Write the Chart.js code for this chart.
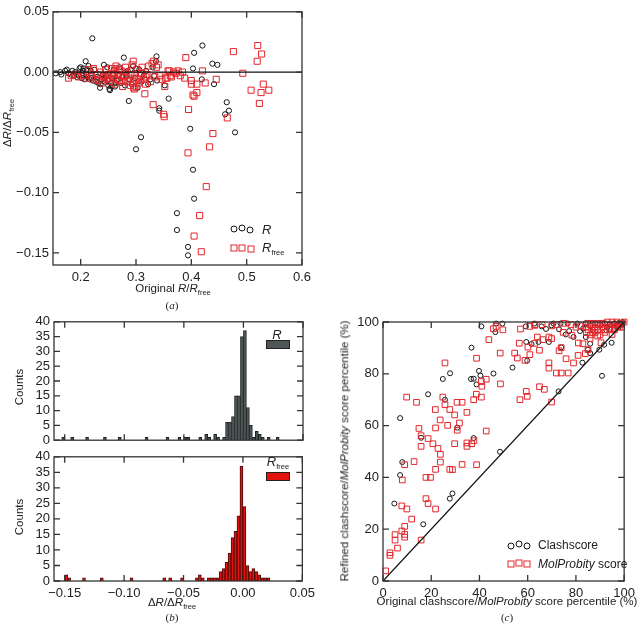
<!DOCTYPE html>
<html>
<head>
<meta charset="utf-8">
<script src="https://cdn.jsdelivr.net/npm/chart.js@4.4.1/dist/chart.umd.min.js"></script>
<style>
  body { margin: 0; background: #fff; }
  #wrap { position: relative; width: 640px; height: 626px; overflow: hidden; font-family: "Liberation Sans", Arial, sans-serif; color: #222; }
  canvas { position: absolute; }
  .t { position: absolute; transform: translate(-50%, -50%); white-space: nowrap; font-size: 11.5px; line-height: 1; }
  .rot { transform: translate(-50%, -50%) rotate(-90deg); }
  .lg { position: absolute; transform: translate(0, -50%); white-space: nowrap; font-size: 12px; line-height: 1; }
  .big { font-size: 13px; }
  .t sub, .lg sub { font-size: 7.5px; vertical-align: -3px; }
  .pl { font-family: "Liberation Serif", serif; font-size: 11px; }
  .circ { position: absolute; width: 5px; height: 5px; border: 1px solid #111; border-radius: 50%; transform: translate(-50%, -50%); }
  .sq { position: absolute; width: 5px; height: 5px; border: 1px solid #e3262b; transform: translate(-50%, -50%); }
  .sw { position: absolute; border: 1px solid #222; }
</style>
</head>
<body>
<div id="wrap">
  <canvas id="chartA" width="320" height="310" style="left:0px;top:0px"></canvas>
  <canvas id="chartB1" width="320" height="142" style="left:0px;top:310px"></canvas>
  <canvas id="chartB2" width="320" height="181" style="left:0px;top:445px"></canvas>
  <canvas id="chartC" width="310" height="316" style="left:330px;top:310px"></canvas>

  <div class="t rot" style="left:9px;top:123px">&Delta;<i>R</i>/&Delta;<i>R</i><sub>free</sub></div>
  <div class="t" style="left:173px;top:290px">Original <i>R</i>/<i>R</i><sub>free</sub></div>
  <div class="t pl" style="left:172px;top:305px">(<i>a</i>)</div>
  <span class="circ" style="left:234px;top:229px"></span>
  <span class="circ" style="left:242px;top:228px"></span>
  <span class="circ" style="left:250px;top:230px"></span>
  <div class="lg big" style="left:262px;top:229px"><i>R</i></div>
  <span class="sq" style="left:234px;top:248px"></span>
  <span class="sq" style="left:242px;top:248px"></span>
  <span class="sq" style="left:251px;top:249px"></span>
  <div class="lg big" style="left:262px;top:249px"><i>R</i><sub>free</sub></div>

  <div class="t rot" style="left:20px;top:387px">Counts</div>
  <div class="t rot" style="left:20px;top:517px">Counts</div>
  <div class="t big" style="left:277px;top:334px"><i>R</i></div>
  <div class="sw" style="left:266px;top:340px;width:22px;height:7px;background:#4d5757"></div>
  <div class="t big" style="left:278px;top:463px"><i>R</i><sub>free</sub></div>
  <div class="sw" style="left:266px;top:472px;width:22px;height:7px;background:#e3140f"></div>
  <div class="t" style="left:172px;top:604px">&Delta;<i>R</i>/&Delta;<i>R</i><sub>free</sub></div>
  <div class="t pl" style="left:172px;top:617px">(<i>b</i>)</div>

  <div class="t rot" style="left:345px;top:451px">Refined clashscore/<i>MolProbity</i> score percentile (%)</div>
  <div class="t" style="left:507px;top:602px">Original clashscore/<i>MolProbity</i> score percentile (%)</div>
  <div class="t pl" style="left:507px;top:617px">(<i>c</i>)</div>
  <span class="circ" style="left:511px;top:546px"></span>
  <span class="circ" style="left:519px;top:544px"></span>
  <span class="circ" style="left:527px;top:546px"></span>
  <div class="lg" style="left:538px;top:545px">Clashscore</div>
  <span class="sq" style="left:511px;top:564px"></span>
  <span class="sq" style="left:519px;top:563px"></span>
  <span class="sq" style="left:527px;top:564px"></span>
  <div class="lg" style="left:538px;top:564px"><i>MolProbity</i> score</div>
</div>

<script>
// (a) original R / Rfree against change
const rOrig = [0.155,0.163,0.165,0.172,0.175,0.178,0.182,0.185,0.188,0.190,0.193,0.196,0.198,0.200,0.202,0.203,0.204,0.205,0.207,0.209,0.210,0.211,0.212,0.214,0.216,0.218,0.219,0.221,0.222,0.225,0.227,0.228,0.230,0.232,0.235,0.236,0.238,0.240,0.242,0.243,0.244,0.246,0.248,0.249,0.250,0.252,0.253,0.255,0.256,0.257,0.258,0.260,0.262,0.263,0.265,0.268,0.270,0.272,0.275,0.278,0.280,0.283,0.285,0.287,0.288,0.290,0.292,0.295,0.298,0.300,0.300,0.303,0.306,0.309,0.310,0.314,0.318,0.322,0.326,0.330,0.333,0.336,0.337,0.338,0.342,0.342,0.352,0.359,0.374,0.374,0.394,0.394,0.398,0.403,0.403,0.405,0.405,0.419,0.420,0.438,0.441,0.447,0.461,0.464,0.468,0.479];
const rDelta = [-0.001,0.000,-0.002,0.001,0.002,-0.001,-0.002,0.001,-0.003,0.000,-0.004,-0.002,0.003,0.004,-0.005,-0.001,0.001,0.003,-0.006,0.009,-0.002,0.002,-0.004,0.005,-0.006,0.001,-0.005,0.028,-0.007,0.002,-0.002,-0.008,-0.004,-0.009,-0.013,-0.010,-0.006,-0.002,0.006,-0.005,-0.008,-0.003,0.004,-0.007,-0.011,-0.014,-0.015,-0.009,-0.012,-0.005,-0.002,0.002,-0.012,-0.009,-0.007,-0.003,0.004,-0.009,-0.004,0.012,-0.011,-0.002,0.001,-0.024,-0.006,0.002,-0.010,0.005,-0.005,0.003,-0.064,-0.013,0.002,-0.054,-0.008,-0.003,0.001,-0.010,-0.006,0.004,-0.003,0.009,0.013,-0.007,-0.030,-0.032,-0.011,-0.022,-0.117,-0.131,-0.145,-0.152,-0.047,0.003,-0.081,0.016,-0.105,-0.006,0.022,0.007,-0.010,0.006,-0.035,-0.025,-0.032,-0.050];
const freeOrig = [0.178,0.183,0.190,0.196,0.205,0.210,0.215,0.220,0.223,0.226,0.230,0.233,0.236,0.239,0.242,0.244,0.245,0.248,0.250,0.251,0.253,0.256,0.258,0.259,0.262,0.262,0.264,0.265,0.267,0.270,0.270,0.272,0.273,0.276,0.278,0.279,0.280,0.281,0.284,0.286,0.287,0.290,0.291,0.293,0.295,0.296,0.296,0.297,0.300,0.300,0.302,0.304,0.305,0.308,0.310,0.311,0.314,0.316,0.317,0.318,0.320,0.323,0.326,0.329,0.331,0.332,0.334,0.337,0.340,0.343,0.347,0.350,0.351,0.352,0.353,0.356,0.358,0.360,0.362,0.364,0.368,0.372,0.376,0.380,0.384,0.388,0.390,0.394,0.395,0.400,0.400,0.403,0.405,0.405,0.410,0.410,0.415,0.418,0.420,0.425,0.427,0.433,0.439,0.445,0.465,0.476,0.493,0.508,0.519,0.520,0.523,0.526,0.527,0.530,0.540];
const freeDelta = [-0.005,-0.003,-0.002,-0.004,-0.003,-0.005,0.002,-0.004,0.003,-0.006,-0.002,-0.007,0.000,-0.009,-0.004,-0.003,0.002,-0.006,-0.002,-0.005,-0.008,0.003,-0.001,-0.004,-0.010,0.003,0.005,-0.006,-0.002,-0.007,0.002,-0.003,0.001,-0.012,-0.008,-0.004,0.000,0.004,-0.008,-0.005,-0.002,-0.011,-0.002,0.006,0.009,-0.008,-0.013,-0.014,-0.005,-0.012,0.002,-0.006,-0.009,-0.003,-0.001,0.004,-0.006,-0.018,-0.010,-0.004,-0.002,0.005,-0.008,0.007,-0.027,0.009,-0.004,0.004,0.006,-0.003,-0.006,-0.035,-0.037,-0.012,-0.005,-0.005,0.001,0.001,-0.003,-0.004,0.000,-0.001,0.001,-0.003,0.000,-0.005,0.012,-0.067,-0.031,-0.007,-0.010,-0.019,-0.020,-0.136,-0.010,-0.017,-0.119,-0.149,0.001,-0.009,-0.095,-0.062,-0.051,-0.006,-0.038,0.017,-0.001,-0.015,0.009,0.022,-0.026,-0.017,0.015,-0.010,-0.015];
const aXTicks = [0.2, 0.3, 0.4, 0.5, 0.6];
const aYTicks = [-0.15, -0.10, -0.05, 0.00, 0.05];

// (b) histograms, bin centres (width 0.0025) and counts
const rBins = [-0.15125,-0.14375,-0.13125,-0.11625,-0.10375,-0.08125,-0.06375,-0.05375,-0.04875,-0.04625,-0.03625,-0.03125,-0.02875,-0.02375,-0.02125,-0.01625,-0.01375,-0.01125,-0.00875,-0.00625,-0.00375,-0.00125,0.00125,0.00375,0.00625,0.00875,0.01125,0.01375,0.01625,0.02125,0.02875];
const rCounts = [1,1,1,1,1,1,1,1,1,1,1,2,1,2,1,1,6,6,8,15,15,35,37,11,5,1,3,2,1,1,1];
const freeBins = [-0.14875,-0.14625,-0.13375,-0.11875,-0.09375,-0.06625,-0.06125,-0.05125,-0.03875,-0.03625,-0.03375,-0.02875,-0.02625,-0.02375,-0.02125,-0.01875,-0.01625,-0.01375,-0.01125,-0.00875,-0.00625,-0.00375,-0.00125,0.00125,0.00375,0.00625,0.00875,0.01125,0.01375,0.01625,0.01875,0.02125];
const freeCounts = [2,1,1,1,1,1,1,1,1,2,1,1,1,1,1,3,4,6,9,14,16,21,37,24,5,3,4,3,2,1,1,1];
const bXTicks = [-0.15, -0.10, -0.05, 0.00, 0.05];
const bYTicks = [0, 5, 10, 15, 20, 25, 30, 35, 40];

// (c) percentiles before / after refinement
const clashOrig = [4.7,7.1,7.1,8.0,15.8,16.7,18.7,24.8,25.7,27.8,27.7,28.8,30.8,36.7,36.5,37.6,38.8,37.6,39.8,40.4,40.8,45.8,46.6,46.9,49.5,48.5,53.7,59.2,59.4,59.8,61.6,62.8,64.5,65.8,67.6,68.8,69.9,70.7,73.0,73.6,73.9,72.8,75.8,76.6,77.2,79.0,80.6,81.7,82.7,84.1,85.0,85.9,85.9,89.7,90.8,91.7,92.6,94.8,95.7,97.1,97.7,84,86,88,90,92,94,96,98,99,83,87,93,99.5];
const clashRef = [29.9,62.9,40.9,45.9,55.3,21.9,72.1,78.0,70.0,80.2,31.8,33.8,59.2,90.1,78.0,78.1,75.9,55.2,81.1,79.3,98.3,80.1,96.1,99.4,99.4,49.9,82.4,98.3,92.3,85.1,91.5,99.4,92.3,98.3,97.3,92.3,98.7,99.4,97.2,99.4,90.2,73.2,95.2,99.4,96.5,94.2,99.4,96.5,84.3,94.2,89.3,91.6,88.0,89.3,79.2,91.2,96.8,92.0,96.8,98.7,98.1,99.5,98.5,99.5,99,99.5,99,99.5,99.8,99,97.5,97,98,100];
const molOrig = [1.1,2.9,2.9,5.0,5.0,6.0,7.8,7.8,8.0,9.0,9.0,9.0,9.0,9.8,9.9,11.9,12.9,13.9,14.9,15.8,15.8,15.8,17.8,17.8,18.7,18.7,19.7,20.7,21.7,21.8,21.8,21.8,22.8,23.7,23.8,23.8,24.8,25.7,25.7,26.8,27.7,27.7,28.8,29.7,29.7,30.7,30.8,31.7,32.8,32.8,34.8,34.8,34.8,36.8,37.6,37.7,38.7,38.8,38.8,40.8,40.8,41.0,42.8,42.8,43.9,45.8,46.9,48.6,48.7,49.7,54.6,55.7,56.5,56.8,57.0,58.9,59.4,59.8,60.1,60.9,60.9,62.9,62.9,64.0,64.9,64.9,66.3,66.9,68.8,68.8,68.8,69.9,69.9,71.9,73.0,73.9,73.9,74.7,75.9,76.8,78.3,79.0,80.9,81.0,82.9,83.9,84.3,85.0,85.9,87.7,89.0,90.4,95.0,63,66,70,72,75,78,80,82,84,85,86,87,88,89,90,91,92,93,94,95,96,97,98,99,100,86,88,90,92,94,96,98,99,85,87,89,91,93,95,97];
const molRef = [3.9,10.9,9.9,17.9,15.8,12.7,29.0,19.3,39.0,21.1,18.0,16.9,44.9,71.0,27.8,23.9,46.1,69.0,58.9,56.1,52.0,15.8,31.8,40.0,55.0,29.9,40.0,53.0,66.2,59.1,43.1,27.8,51.2,62.2,48.9,45.9,71.0,84.2,68.1,60.1,66.2,43.1,43.0,64.1,53.0,69.0,58.2,61.0,69.0,45.0,65.1,53.3,52.0,53.0,70.0,54.2,72.1,86.0,44.9,77.0,71.0,75.2,77.9,57.9,93.2,97.4,98.3,88.0,76.1,97.0,88.0,86.1,91.8,70.0,97.3,85.2,73.2,71.3,90.3,98.3,87.4,91.8,98.7,94.2,89.1,75.0,93.2,74.0,94.2,84.2,82.2,69.1,93.6,80.3,88.9,80.3,90.1,96.0,85.8,80.3,94.9,84.2,87.1,91.9,91.6,87.8,95.9,89.3,93.6,96.8,94.6,92.0,95.2,99,99,98.5,99,99.5,99,98,98.5,98,97,99,96,98,97,99,98,97,99,98,99,98,99,99,99.5,100,95,96,95,96,97,97,98,98,99.5,99.5,99.5,99.5,100,100,100];
const cTicks = [0, 20, 40, 60, 80, 100];

const BLACK = "#161616";
const RED = "#e3262b";

Chart.defaults.font.family = "'Liberation Sans', Arial, sans-serif";
Chart.defaults.font.size = 13;
Chart.defaults.color = "#222";
Chart.defaults.animation = false;

function pts(xs, ys) {
  return xs.map((x, i) => ({ x: x, y: ys[i] }));
}

function minusSign(text) {
  return text.replace("-", "\u2212");
}

// box around the plot area with ticks pointing inwards on all sides
const frameTicks = {
  id: "frameTicks",
  afterDatasetsDraw(chart, args, opts) {
    const { ctx, chartArea: a, scales } = chart;
    const len = opts.len || 6;
    ctx.save();
    ctx.strokeStyle = "#333";
    ctx.lineWidth = 1.3;
    ctx.strokeRect(a.left, a.top, a.right - a.left, a.bottom - a.top);
    ctx.beginPath();
    scales.x.ticks.forEach(t => {
      const p = scales.x.getPixelForValue(t.value);
      ctx.moveTo(p, a.bottom); ctx.lineTo(p, a.bottom - len);
      ctx.moveTo(p, a.top); ctx.lineTo(p, a.top + len);
    });
    scales.y.ticks.forEach(t => {
      const p = scales.y.getPixelForValue(t.value);
      ctx.moveTo(a.left, p); ctx.lineTo(a.left + len, p);
      ctx.moveTo(a.right, p); ctx.lineTo(a.right - len, p);
    });
    ctx.stroke();
    ctx.restore();
  }
};

function axis(min, max, tickList, fmt, size, isX, showLabels) {
  return {
    type: "linear",
    min: min,
    max: max,
    offset: false,
    grid: { display: false, drawTicks: false },
    border: { display: false },
    ticks: { display: showLabels !== false, padding: isX ? 5 : 4, maxRotation: 0, autoSkip: false, callback: fmt },
    afterBuildTicks: s => { s.ticks = tickList.map(v => ({ value: v })); },
    afterFit: s => { if (isX) s.height = size; else s.width = size; }
  };
}

// (a)
new Chart(document.getElementById("chartA"), {
  type: "scatter",
  data: {
    datasets: [
      {
        data: [{ x: 0.15, y: 0 }, { x: 0.6, y: 0 }],
        showLine: true, borderColor: "#111", borderWidth: 1.3, pointRadius: 0
      },
      {
        data: pts(freeOrig, freeDelta),
        pointStyle: "rect", pointRadius: 4.3, borderColor: RED, borderWidth: 1,
        backgroundColor: "rgba(0,0,0,0)", clip: 4
      },
      {
        data: pts(rOrig, rDelta),
        pointStyle: "circle", pointRadius: 2.6, borderColor: BLACK, borderWidth: 1,
        backgroundColor: "rgba(0,0,0,0)", clip: 4
      }
    ]
  },
  options: {
    responsive: false,
    layout: { padding: { left: 0, right: 18, top: 5, bottom: 0 } },
    plugins: { legend: { display: false }, tooltip: { enabled: false }, frameTicks: { len: 6 } },
    scales: {
      x: axis(0.15, 0.6, aXTicks, v => v.toFixed(1), 45, true),
      y: axis(-0.16, 0.05, aYTicks, v => minusSign(v.toFixed(2)), 53, false)
    }
  },
  plugins: [frameTicks]
});

function histogram(id, bins, counts, fill, edge, showX, pad, xHeight) {
  new Chart(document.getElementById(id), {
    type: "bar",
    data: {
      datasets: [{
        data: pts(bins, counts),
        backgroundColor: fill, borderColor: edge, borderWidth: 1,
        barPercentage: 1, categoryPercentage: 1
      }]
    },
    options: {
      responsive: false,
      layout: { padding: pad },
      plugins: { legend: { display: false }, tooltip: { enabled: false }, frameTicks: { len: 6 } },
      scales: {
        x: axis(-0.159, 0.05, bXTicks, v => minusSign(v.toFixed(2)), xHeight, true, showX),
        y: axis(0, 40, bYTicks, v => String(v), 54, false)
      }
    },
    plugins: [frameTicks]
  });
}

histogram("chartB1", rBins, rCounts, "#4d5757", "#1c2020", false, { left: 0, right: 17, top: 11, bottom: 0 }, 1);
histogram("chartB2", freeBins, freeCounts, "#e3140f", "#4a0c0c", true, { left: 0, right: 17, top: 6, bottom: 0 }, 45);

// (c)
new Chart(document.getElementById("chartC"), {
  type: "scatter",
  data: {
    datasets: [
      {
        data: [{ x: 0, y: 0 }, { x: 100, y: 100 }],
        showLine: true, borderColor: "#111", borderWidth: 1.2, pointRadius: 0
      },
      {
        data: pts(molOrig, molRef),
        pointStyle: "rect", pointRadius: 4, borderColor: RED, borderWidth: 1,
        backgroundColor: "rgba(0,0,0,0)", clip: 4
      },
      {
        data: pts(clashOrig, clashRef),
        pointStyle: "circle", pointRadius: 2.5, borderColor: BLACK, borderWidth: 1,
        backgroundColor: "rgba(0,0,0,0)", clip: 4
      }
    ]
  },
  options: {
    responsive: false,
    layout: { padding: { left: 0, right: 8, top: 12, bottom: 0 } },
    plugins: { legend: { display: false }, tooltip: { enabled: false }, frameTicks: { len: 6 } },
    scales: {
      x: axis(0, 100, cTicks, v => String(v), 45, true),
      y: axis(0, 100, cTicks, v => String(v), 53, false)
    }
  },
  plugins: [frameTicks]
});
</script>
</body>
</html>
